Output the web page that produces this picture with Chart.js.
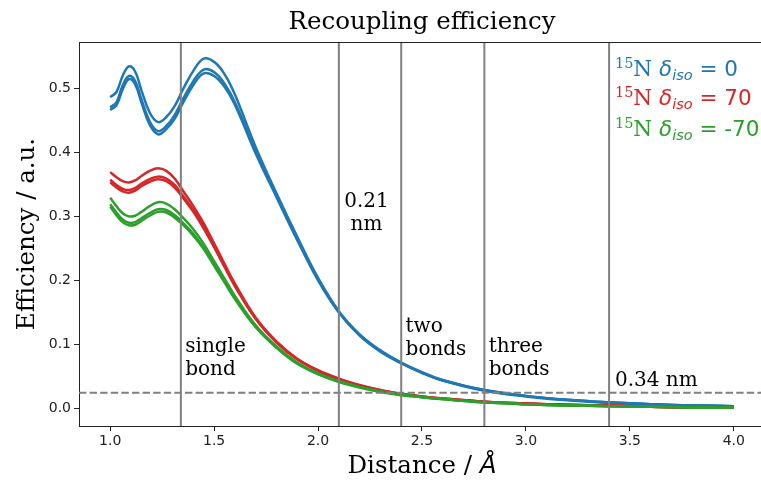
<!DOCTYPE html>
<html>
<head>
<meta charset="utf-8">
<script src="https://cdn.jsdelivr.net/npm/chart.js@4"></script>
<style>
html,body{margin:0;padding:0;overflow:hidden;background:#fff;}
#wrap{width:765px;height:482px;position:relative;}
</style>
</head>
<body>
<div id="wrap"><canvas id="c" width="765" height="482"></canvas></div>
<script>
// ---- data ----
const distances = [1.0,1.03,1.06,1.09,1.12,1.15,1.19,1.23,1.27,1.31,1.35,1.4,1.45,1.5,1.55,1.6,1.7,1.8,1.9,2.0,2.1,2.2,2.3,2.4,2.5,2.6,2.8,3.0,3.2,3.4,3.6,3.8,4.0];
const blue1 = [0.486,0.494,0.519,0.534,0.526,0.497,0.462,0.447,0.455,0.472,0.498,0.527,0.546,0.541,0.522,0.490,0.408,0.336,0.268,0.204,0.152,0.116,0.091,0.072,0.057,0.045,0.029,0.020,0.014,0.010,0.007,0.005,0.004];
const blue2 = [0.470,0.478,0.504,0.519,0.511,0.483,0.448,0.433,0.441,0.458,0.483,0.511,0.529,0.525,0.507,0.478,0.401,0.332,0.265,0.202,0.151,0.115,0.090,0.071,0.056,0.044,0.029,0.020,0.014,0.010,0.007,0.005,0.004];
const blue3 = [0.466,0.473,0.498,0.514,0.506,0.478,0.443,0.428,0.436,0.452,0.477,0.505,0.523,0.519,0.502,0.474,0.398,0.330,0.263,0.200,0.150,0.114,0.089,0.071,0.056,0.044,0.028,0.019,0.013,0.009,0.007,0.005,0.004];
const red1 = [0.369,0.361,0.355,0.353,0.356,0.363,0.371,0.375,0.371,0.359,0.340,0.316,0.289,0.258,0.226,0.195,0.142,0.105,0.078,0.060,0.047,0.037,0.029,0.023,0.019,0.016,0.011,0.008,0.006,0.005,0.003,0.002,0.002];
const red2 = [0.357,0.349,0.343,0.341,0.344,0.351,0.358,0.362,0.359,0.349,0.332,0.310,0.284,0.254,0.223,0.193,0.141,0.104,0.077,0.059,0.046,0.036,0.029,0.023,0.019,0.016,0.011,0.008,0.006,0.005,0.003,0.002,0.002];
const red3 = [0.353,0.345,0.339,0.337,0.340,0.347,0.354,0.358,0.355,0.345,0.329,0.307,0.281,0.252,0.221,0.191,0.140,0.103,0.077,0.059,0.046,0.036,0.028,0.023,0.019,0.015,0.011,0.008,0.006,0.005,0.003,0.002,0.002];
const green1 = [0.329,0.316,0.305,0.300,0.301,0.307,0.316,0.322,0.320,0.311,0.298,0.280,0.257,0.230,0.203,0.176,0.130,0.097,0.072,0.055,0.043,0.034,0.027,0.022,0.018,0.015,0.010,0.007,0.005,0.004,0.003,0.002,0.0015];
const green2 = [0.319,0.306,0.295,0.290,0.291,0.297,0.305,0.311,0.310,0.302,0.290,0.273,0.251,0.225,0.199,0.173,0.128,0.096,0.071,0.054,0.042,0.034,0.027,0.022,0.018,0.015,0.010,0.007,0.005,0.004,0.003,0.002,0.0015];
const green3 = [0.315,0.302,0.291,0.286,0.287,0.293,0.301,0.307,0.306,0.298,0.287,0.270,0.249,0.223,0.197,0.171,0.127,0.095,0.070,0.054,0.042,0.033,0.026,0.021,0.018,0.015,0.010,0.007,0.005,0.004,0.003,0.002,0.0015];
const markerLines = [1.34, 2.1, 2.4, 2.8, 3.4];
const thresholdLevel = 0.025;
const xTicks = [1.0,1.5,2.0,2.5,3.0,3.5,4.0];
const yTicks = [0.0,0.1,0.2,0.3,0.4,0.5];
const legendValues = ['0','70','-70'];
const annotations = [
  {lines:['single','bond'], x:1.361, y:0.097, align:'left'},
  {lines:['0.21','nm'], x:2.233, y:0.323, align:'center'},
  {lines:['two','bonds'], x:2.421, y:0.128, align:'left'},
  {lines:['three','bonds'], x:2.821, y:0.097, align:'left'},
  {lines:['0.34 nm'], x:3.428, y:0.044, align:'left'}
];

// ---- config ----
const X_MIN = 0.85, X_MAX = 4.15, Y_MIN = -0.027, Y_MAX = 0.572;
const C_BLUE = '#1f77b4', C_RED = '#d62728', C_GREEN = '#2ca02c', C_GRAY = '#808080';
const pts = arr => arr.map((v,i)=>({x:distances[i], y:v}));
const curve = (arr,color,order) => ({data:pts(arr), borderColor:color, borderWidth:2.5, pointRadius:0, tension:0.4, order:order, fill:false});

const datasets = [];
markerLines.forEach(v => datasets.push({data:[{x:v,y:Y_MIN},{x:v,y:Y_MAX}], borderColor:C_GRAY, borderWidth:2, pointRadius:0, order:0}));
datasets.push({data:[{x:X_MIN,y:thresholdLevel},{x:X_MAX,y:thresholdLevel}], borderColor:C_GRAY, borderWidth:2, borderDash:[7.4,3.2], pointRadius:0, order:0});
[blue1,blue2,blue3].forEach(a=>datasets.push(curve(a,C_BLUE,3)));
[red1,red2,red3].forEach(a=>datasets.push(curve(a,C_RED,2)));
[green1,green2,green3].forEach(a=>datasets.push(curve(a,C_GREEN,1)));

const SERIF = '"DejaVu Serif", serif';
const SANS = '"DejaVu Sans", sans-serif';

const textPlugin = {
  id:'texts',
  afterDraw(chart){
    const ctx = chart.ctx, ca = chart.chartArea;
    const xs = chart.scales.x, ys = chart.scales.y;
    ctx.save();
    // top spine and bottom spine continue to the canvas edge
    ctx.strokeStyle = '#222'; ctx.lineWidth = 1;
    ctx.beginPath(); ctx.moveTo(ca.left, ca.top+0.5); ctx.lineTo(chart.width, ca.top+0.5); ctx.stroke();
    ctx.beginPath(); ctx.moveTo(ca.right, ca.bottom+0.5); ctx.lineTo(chart.width, ca.bottom+0.5); ctx.stroke();
    ctx.fillStyle = '#000';
    const midX = (xs.getPixelForValue(X_MIN)+xs.getPixelForValue(X_MAX))/2;
    // title
    ctx.font = '24.5px ' + SERIF; ctx.textAlign = 'center'; ctx.textBaseline = 'middle';
    ctx.fillText('Recoupling efficiency', midX, 23);
    // x label
    ctx.font = '24.5px ' + SERIF;
    const xl1 = 'Distance / ';
    const w1 = ctx.measureText(xl1).width;
    ctx.font = 'italic 24.5px ' + SANS;
    const w2 = ctx.measureText('Å').width;
    let sx = midX - (w1+w2)/2;
    ctx.textAlign = 'left';
    ctx.font = '24.5px ' + SERIF; ctx.fillText(xl1, sx, 467);
    ctx.font = 'italic 24.5px ' + SANS; ctx.fillText('Å', sx+w1, 467);
    // y label
    ctx.save();
    ctx.translate(28, (ca.top+ca.bottom)/2);
    ctx.rotate(-Math.PI/2);
    ctx.font = '24.5px ' + SERIF; ctx.textAlign='center';
    ctx.fillText('Efficiency / a.u.', 0, 0);
    ctx.restore();
    // annotations
    ctx.font = '20px ' + SERIF; ctx.textBaseline = 'middle'; ctx.fillStyle = '#000';
    annotations.forEach(a=>{
      ctx.textAlign = a.align;
      const px = xs.getPixelForValue(a.x), py = ys.getPixelForValue(a.y);
      a.lines.forEach((t,i)=>ctx.fillText(t, px, py + i*23.5));
    });
    // legend text
    const colors = [C_BLUE, C_RED, C_GREEN];
    const lx = xs.getPixelForValue(3.428);
    const baseY = [76, 105, 136];
    legendValues.forEach((v,i)=>{
      ctx.fillStyle = colors[i]; ctx.textAlign='left'; ctx.textBaseline='alphabetic';
      let x = lx; const y = baseY[i];
      const seg = [
        {t:'15', f:'14.5px '+SERIF, dy:-8.5},
        {t:'N', f:'21.5px '+SERIF, dy:0},
        {t:' ', f:'21.5px '+SERIF, dy:0},
        {t:'δ', f:'italic 21.5px '+SANS, dy:0},
        {t:'iso', f:'italic 14.5px '+SANS, dy:4},
        {t:' = '+v, f:'21.5px '+SANS, dy:0}
      ];
      seg.forEach(s=>{ ctx.font = s.f; ctx.fillText(s.t, x, y+s.dy); x += ctx.measureText(s.t).width; });
    });
    ctx.restore();
  }
};

new Chart(document.getElementById('c'), {
  type:'line',
  data:{datasets},
  options:{
    responsive:false, animation:false,
    layout:{padding:{top:42,left:0,right:0,bottom:0}},
    plugins:{legend:{display:false}, tooltip:{enabled:false}, title:{display:false}},
    elements:{line:{borderCapStyle:'butt', borderJoinStyle:'round'}},
    scales:{
      x:{type:'linear', min:X_MIN, max:X_MAX,
        afterFit(s){ s.height = 56; },
        afterBuildTicks(s){ s.ticks = xTicks.map(v=>({value:v})); },
        ticks:{font:{family:'DejaVu Sans', size:14}, color:'#222', padding:2, callback:v=>v.toFixed(1), maxRotation:0, autoSkip:false},
        grid:{display:true, drawOnChartArea:false, drawTicks:true, tickLength:5, color:'#222'},
        border:{display:true, color:'#222', width:1}
      },
      y:{type:'linear', min:Y_MIN, max:Y_MAX,
        afterFit(s){ s.width = 79; },
        afterBuildTicks(s){ s.ticks = yTicks.map(v=>({value:v})); },
        ticks:{font:{family:'DejaVu Sans', size:14}, color:'#222', padding:3, callback:v=>v.toFixed(1), autoSkip:false},
        grid:{display:true, drawOnChartArea:false, drawTicks:true, tickLength:5, color:'#222'},
        border:{display:true, color:'#222', width:1}
      }
    }
  },
  plugins:[textPlugin]
});
</script>
</body>
</html>
